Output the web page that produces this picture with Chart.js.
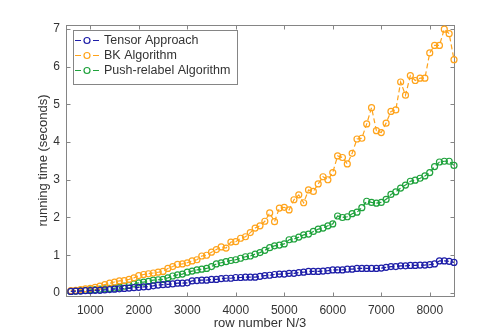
<!DOCTYPE html>
<html>
<head>
<meta charset="utf-8">
<script src="https://cdn.jsdelivr.net/npm/chart.js@4/dist/chart.umd.min.js"></script>
<style>
  html, body { margin: 0; padding: 0; background: #ffffff; }
  #wrap { width: 502px; height: 335px; position: relative; }
</style>
</head>
<body>
<div id="wrap"><canvas id="c" width="502" height="335"></canvas></div>
<script>
// ---- data ----
const rowNumbers = [600,700,800,900,1000,1100,1200,1300,1400,1500,1600,1700,1800,1900,2000,2100,2200,2300,2400,2500,
  2600,2700,2800,2900,3000,3100,3200,3300,3400,3500,3600,3700,3800,3900,4000,4100,4200,4300,4400,4500,
  4600,4700,4800,4900,5000,5100,5200,5300,5400,5500,5600,5700,5800,5900,6000,6100,6200,6300,6400,6500,
  6600,6700,6800,6900,7000,7100,7200,7300,7400,7500,7600,7700,7800,7900,8000,8100,8200,8300,8400,8500];

const tensorApproach = [0.04,0.05,0.05,0.06,0.06,0.07,0.07,0.08,0.09,0.10,0.11,0.12,0.13,0.14,0.15,0.16,0.17,0.19,0.21,0.22,
  0.23,0.24,0.26,0.26,0.27,0.32,0.33,0.34,0.34,0.36,0.36,0.38,0.39,0.39,0.41,0.41,0.42,0.42,0.42,0.44,
  0.46,0.47,0.49,0.50,0.50,0.52,0.52,0.54,0.55,0.57,0.57,0.57,0.58,0.59,0.61,0.61,0.61,0.63,0.63,0.65,
  0.65,0.65,0.65,0.65,0.66,0.68,0.70,0.70,0.72,0.72,0.73,0.73,0.74,0.74,0.75,0.77,0.85,0.85,0.84,0.81];

const bkAlgorithm = [0.06,0.07,0.09,0.11,0.12,0.15,0.18,0.22,0.26,0.29,0.32,0.33,0.36,0.40,0.46,0.49,0.51,0.53,0.55,0.57,
  0.65,0.70,0.76,0.77,0.80,0.85,0.88,0.98,1.00,1.08,1.15,1.22,1.19,1.35,1.36,1.45,1.49,1.60,1.72,1.78,
  1.90,2.12,1.89,2.25,2.27,2.20,2.47,2.60,2.39,2.73,2.69,2.89,3.08,3.00,3.19,3.63,3.59,3.42,3.70,4.08,
  4.10,4.48,4.91,4.30,4.25,4.50,4.81,4.85,5.59,5.24,5.76,5.63,5.69,5.69,6.36,6.56,6.56,6.99,6.87,6.18];

const pushRelabel = [0.04,0.05,0.06,0.07,0.08,0.09,0.10,0.11,0.12,0.13,0.15,0.18,0.20,0.24,0.27,0.29,0.31,0.34,0.35,0.36,
  0.40,0.45,0.48,0.50,0.55,0.58,0.61,0.63,0.65,0.70,0.77,0.80,0.83,0.86,0.88,0.92,0.96,0.98,1.03,1.07,
  1.13,1.20,1.25,1.27,1.30,1.41,1.43,1.48,1.54,1.56,1.63,1.69,1.72,1.78,1.83,2.04,2.00,2.02,2.10,2.14,
  2.26,2.43,2.40,2.38,2.40,2.48,2.61,2.68,2.78,2.86,2.96,2.99,3.04,3.10,3.19,3.35,3.47,3.49,3.49,3.38];

const seriesLabels = ['Tensor Approach', 'BK Algorithm', 'Push-relabel Algorithm'];
const xTickValues = [1000,2000,3000,4000,5000,6000,7000,8000];
const yTickValues = [0,1,2,3,4,5,6,7];
const xAxisTitle = 'row number N/3';
const yAxisTitle = 'running time (seconds)';

// ---- styling ----
const COLORS = ['#1e1ea8', '#ffa31a', '#1fa23c'];
const AXIS_COLOR = '#858585';
const TEXT_COLOR = '#333333';
const FONT_FAMILY = '"Liberation Sans", Arial, Helvetica, sans-serif';

function toPoints(ys) { return rowNumbers.map((x, i) => ({ x: x, y: ys[i] })); }

const seriesValues = [tensorApproach, bkAlgorithm, pushRelabel];
const datasets = seriesValues.map((vals, i) => ({
  label: seriesLabels[i],
  data: toPoints(vals),
  borderColor: COLORS[i],
  backgroundColor: 'rgba(0,0,0,0)',
  borderWidth: 1.2,
  borderDash: [5, 3],
  pointRadius: 3,
  pointHoverRadius: 3,
  pointBorderWidth: 1.2,
  pointBorderColor: COLORS[i],
  pointBackgroundColor: 'rgba(0,0,0,0)',
  tension: 0,
  clip: false
}));

const matlabAxes = {
  id: 'matlabAxes',
  beforeDatasetsDraw(chart) {
    const { ctx, chartArea: a, scales } = chart;
    ctx.save();
    ctx.strokeStyle = AXIS_COLOR;
    ctx.lineWidth = 1;
    ctx.setLineDash([]);
    const L = Math.round(a.left) + 0.5, R = Math.round(a.right) + 0.5;
    const T = Math.round(a.top) + 0.5, B = Math.round(a.bottom) + 0.5;
    ctx.strokeRect(L, T, R - L, B - T);
    const tl = 4;
    ctx.beginPath();
    xTickValues.forEach(v => {
      const px = Math.round(scales.x.getPixelForValue(v)) + 0.5;
      ctx.moveTo(px, B); ctx.lineTo(px, B - tl);
      ctx.moveTo(px, T); ctx.lineTo(px, T + tl);
    });
    yTickValues.forEach(v => {
      const py = Math.round(scales.y.getPixelForValue(v)) + 0.5;
      ctx.moveTo(L, py); ctx.lineTo(L + tl, py);
      ctx.moveTo(R, py); ctx.lineTo(R - tl, py);
    });
    ctx.stroke();
    // axis titles
    ctx.fillStyle = TEXT_COLOR;
    ctx.font = '13px ' + FONT_FAMILY;
    ctx.textAlign = 'center';
    ctx.textBaseline = 'middle';
    ctx.fillText(xAxisTitle, (a.left + a.right) / 2, 323);
    ctx.save();
    ctx.translate(43, (a.top + a.bottom) / 2);
    ctx.rotate(-Math.PI / 2);
    ctx.fillText(yAxisTitle, 0, 0);
    ctx.restore();
    ctx.restore();
  },
  afterDraw(chart) {
    const { ctx } = chart;
    ctx.save();
    const bx = 73, by = 30, bw = 164, bh = 54;
    ctx.fillStyle = '#ffffff';
    ctx.fillRect(bx, by, bw, bh);
    ctx.strokeStyle = AXIS_COLOR;
    ctx.lineWidth = 1;
    ctx.setLineDash([]);
    ctx.strokeRect(bx + 0.5, by + 0.5, bw, bh);
    ctx.font = '12.5px ' + FONT_FAMILY;
    ctx.textBaseline = 'middle';
    ctx.textAlign = 'left';
    chart.data.datasets.forEach((ds, i) => {
      const y = 40.5 + i * 15;
      ctx.strokeStyle = ds.borderColor;
      ctx.lineWidth = 1.2;
      ctx.beginPath();
      ctx.moveTo(75, y); ctx.lineTo(81, y);
      ctx.moveTo(93, y); ctx.lineTo(99, y);
      ctx.stroke();
      ctx.beginPath();
      ctx.arc(87, y, 3, 0, Math.PI * 2);
      ctx.stroke();
      ctx.fillStyle = TEXT_COLOR;
      ctx.fillText(ds.label, 104, y + 0.5);
    });
    ctx.restore();
  }
};

new Chart(document.getElementById('c'), {
  type: 'line',
  data: { datasets: datasets },
  options: {
    responsive: false,
    animation: false,
    devicePixelRatio: 1,
    layout: { padding: { top: 25, right: 48, left: 0, bottom: 0 } },
    plugins: { legend: { display: false }, tooltip: { enabled: false } },
    scales: {
      x: {
        type: 'linear',
        min: 500, max: 8500,
        afterBuildTicks: s => { s.ticks = xTickValues.map(v => ({ value: v })); },
        afterFit: s => { s.height = 39; },
        grid: { display: false, drawTicks: false },
        border: { display: false },
        ticks: { padding: 7, maxRotation: 0, autoSkip: false, color: TEXT_COLOR,
                 font: { size: 12, family: FONT_FAMILY }, callback: v => String(v) }
      },
      y: {
        type: 'linear',
        min: -0.08, max: 7.1,
        afterBuildTicks: s => { s.ticks = yTickValues.map(v => ({ value: v })); },
        afterFit: s => { s.width = 66; },
        grid: { display: false, drawTicks: false },
        border: { display: false },
        ticks: { padding: 6, autoSkip: false, color: TEXT_COLOR,
                 font: { size: 12, family: FONT_FAMILY }, callback: v => String(v) }
      }
    }
  },
  plugins: [matlabAxes]
});
</script>
</body>
</html>
